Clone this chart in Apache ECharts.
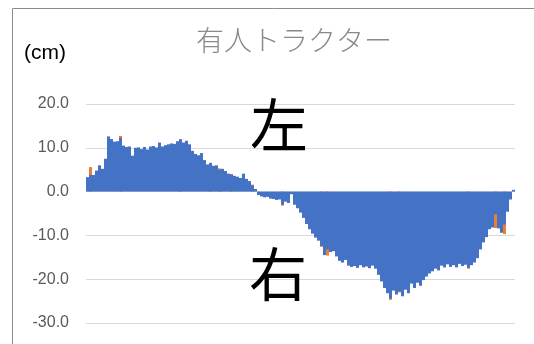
<!DOCTYPE html>
<html><head><meta charset="utf-8">
<script src="https://cdn.jsdelivr.net/npm/echarts@6/dist/echarts.min.js"></script>
<style>html,body{margin:0;padding:0;background:#fff}#c{width:534px;height:344px}</style>
</head><body><div id="c"></div>
<script>
var titleText = '有人トラクター';
var unitLabel = '(cm)';
var leftLabel = '左';
var rightLabel = '右';
var yTicks = [-30, -20, -10, 0, 10, 20];
var blueValues = [
 3.3,3.8,3.8,4.8,6.0,5.2,7.5,12.6,12.0,11.4,
 11.5,12.3,10.5,10.2,10.3,8.2,10.0,10.1,9.7,10.2,
 9.6,10.3,10.4,10.1,11.2,10.3,10.6,10.8,11.0,10.9,
 11.5,11.9,11.2,11.6,10.8,9.3,8.6,8.3,8.8,7.2,
 6.2,6.5,5.9,6.0,5.0,5.2,4.7,4.1,3.9,3.6,
 3.4,3.1,4.1,2.9,2.4,1.4,0.6,-0.8,-1.1,-1.3,
 -1.2,-1.6,-1.7,-1.9,-1.8,-3.0,-2.3,-2.6,-0.6,-3.0,
 -3.8,-4.8,-6.0,-7.4,-8.6,-9.6,-10.5,-11.2,-12.4,-14.5,
 -13.2,-13.8,-13.6,-14.8,-15.8,-16.2,-15.6,-16.9,-17.2,-17.0,
 -17.4,-16.8,-17.3,-17.1,-17.5,-16.9,-17.6,-19.0,-20.5,-22.0,
 -23.2,-24.4,-22.6,-23.5,-22.8,-23.9,-22.4,-23.2,-21.0,-22.0,
 -20.8,-21.5,-20.2,-19.4,-18.7,-18.2,-17.6,-18.0,-16.9,-17.3,
 -16.6,-17.2,-16.8,-17.3,-16.5,-17.0,-16.7,-17.4,-16.8,-16.2,
 -15.2,-13.2,-11.6,-10.4,-8.6,-8.2,-5.2,-8.4,-9.4,-7.5,
 -4.6,-1.8,0.4
];
var orangeIdx = [1, 11, 31, 41, 44, 48, 55, 65, 78, 80, 101, 104, 127, 136, 139];
var orangeVals = [5.6, 12.7, 12.0, 6.6, 5.3, 4.0, 1.6, -3.2, -12.6, -14.6, -24.7, -23.0, -17.6, -8.3, -9.7];

var categories = blueValues.map(function(_, i){ return String(i + 1); });
var orangeValues = blueValues.map(function(){ return null; });
orangeIdx.forEach(function(ix, k){ orangeValues[ix] = orangeVals[k]; });

var chart = echarts.init(document.getElementById('c'), null, {renderer:'canvas'});
chart.setOption({
  animation: false,
  backgroundColor: '#fff',
  title: {
    text: titleText, left: 289, top: 21, textAlign: 'center',
    textStyle: {fontFamily: '"Noto Sans CJK JP"', fontSize: 28, fontWeight: 300, color: '#8a8a8a'}
  },
  grid: {left: 86, right: 19, top: 104, bottom: 21},
  xAxis: {
    type: 'category', data: categories, boundaryGap: true,
    axisLine: {show: false}, axisTick: {show: false}, axisLabel: {show: false}, splitLine: {show: false}
  },
  yAxis: {
    type: 'value', min: yTicks[0], max: yTicks[yTicks.length-1], interval: 10,
    axisLine: {show: false}, axisTick: {show: false},
    axisLabel: {formatter: function(v){ return v.toFixed(1); }, color: '#595959', fontSize: 16, margin: 17, fontFamily: 'Liberation Sans'},
    splitLine: {lineStyle: {color: '#d9d9d9', width: 1}}
  },
  series: [
    {type: 'bar', data: orangeValues, barWidth: '100%', barGap: '-100%', itemStyle: {color: '#ed7d31'}, z: 1},
    {type: 'bar', data: blueValues, barWidth: '100%', barGap: '-100%', itemStyle: {color: '#4472c4'}, z: 2}
  ],
  graphic: [
    {type: 'rect', shape: {x: 12.5, y: 8.5, width: 700, height: 500}, style: {fill: 'none', stroke: '#8c8c8c', lineWidth: 1}, z: 0, silent: true},
    {type: 'text', left: 24, top: 43, style: {text: unitLabel, font: '21px "Liberation Sans"', fill: '#000'}, z: 10},
    {type: 'text', x: 279, y: 125, style: {text: leftLabel, font: '58px "Noto Sans CJK JP"', fill: '#000', align: 'center', verticalAlign: 'middle'}, z: 10},
    {type: 'text', x: 278, y: 274, style: {text: rightLabel, font: '58px "Noto Sans CJK JP"', fill: '#000', align: 'center', verticalAlign: 'middle'}, z: 10}
  ]
});
</script></body></html>
